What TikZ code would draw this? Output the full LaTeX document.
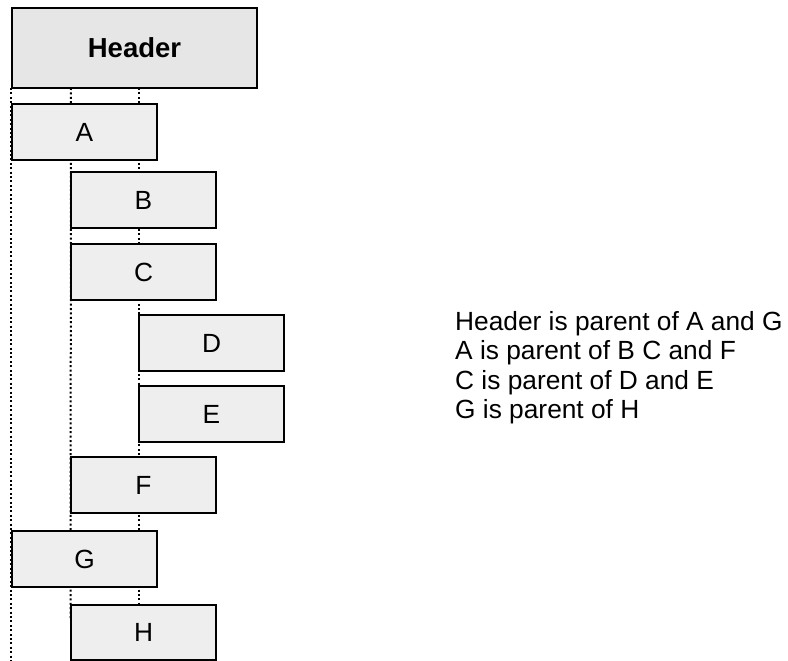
\documentclass[tikz,border=0pt]{standalone}
\usepackage{fontspec}
\setmainfont{Liberation Sans}
\usetikzlibrary{backgrounds}
\definecolor{boxgray}{RGB}{238,238,238}
\definecolor{hdrgray}{RGB}{230,230,230}
\begin{document}
\begin{tikzpicture}[x=1pt,y=1pt,
  box/.style={draw=black, line width=2pt, fill=boxgray, minimum width=145pt,
    minimum height=56pt, inner sep=0pt, outer sep=0pt, anchor=north west,
    font=\fontsize{26.3}{30}\selectfont},
  hdrbox/.style={box, fill=hdrgray, minimum width=245pt, minimum height=80pt,
    font=\fontsize{27.5}{32}\selectfont\bfseries},
  guide/.style={line width=2pt, dash pattern=on 2pt off 2.4pt},
  note/.style={anchor=base west, inner sep=0pt, font=\fontsize{26.3}{30}\selectfont}]
\useasboundingbox (0,0) rectangle (788,-661);

\node[hdrbox] (hdr) at (12,-8) {Header};
\node[box] (A) at (12,-104) {A};
\node[box] (B) at (71,-172) {B};
\node[box] (C) at (71,-244) {C};
\node[box] (D) at (139,-315) {D};
\node[box] (E) at (139,-386) {E};
\node[box] (F) at (71,-457) {F};
\node[box] (G) at (12,-531) {G};
\node[box, minimum height=54.5pt] (H) at (71,-605) {H};

\coordinate (g1top) at ([xshift=-1pt]hdr.south west);
\coordinate (g1bot) at (11,-661);
\coordinate (g2top) at (hdr.south -| B.west);
\coordinate (g2bot) at (70.5,-618);
\coordinate (g3top) at (hdr.south -| D.west);
\coordinate (g3bot) at (H.north -| D.west);

\begin{pgfonlayer}{background}
\draw[guide] (g1top) -- (g1bot);
\draw[guide] (g2top) -- (g2bot);
\draw[guide] (g3top) -- (g3bot);
\end{pgfonlayer}

\node[note] (t1) at (455,-330) {Header is parent of A and G};
\node[note] (t2) at (455,-359.5) {A is parent of B C and F};
\node[note] (t3) at (455,-389) {C is parent of D and E};
\node[note] (t4) at (455,-418.5) {G is parent of H};
\end{tikzpicture}
\end{document}
